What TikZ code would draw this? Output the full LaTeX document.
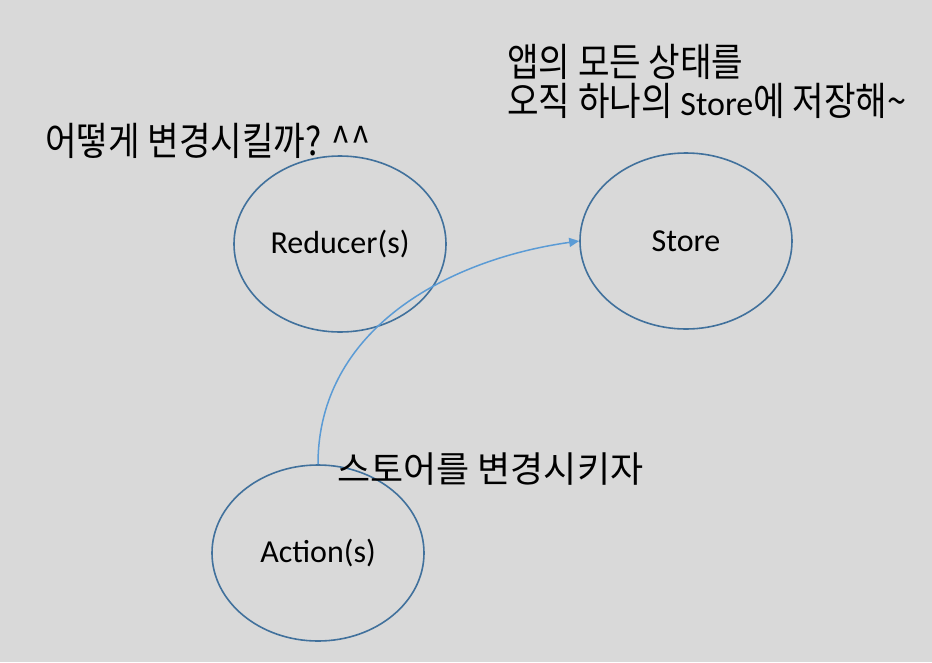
\documentclass[tikz,border=0pt]{standalone}
\usepackage{fontspec}
\setmainfont{Carlito}
\newfontfamily\kr{Noto Sans CJK KR}
\newfontfamily\krn[FakeStretch=0.88]{Noto Sans CJK KR}
\usetikzlibrary{shapes.geometric,arrows.meta}
\definecolor{bg}{HTML}{D9D9D9}
\definecolor{edge}{HTML}{41719C}
\definecolor{arr}{HTML}{5B9BD5}
\tikzset{
  state/.style={ellipse, draw=edge, line width=1.6pt, minimum width=212pt, minimum height=176pt, inner sep=0pt, font=\fontsize{32}{36}\selectfont},
  lbl/.style={anchor=base west, inner sep=0pt, text=black},
  flow/.style={draw=arr, line width=1.5pt, -{Triangle[length=10pt,width=9pt]}}
}
\begin{document}
\begin{tikzpicture}[x=1pt,y=-1pt]
\fill[bg] (0,0) rectangle (932,662);
\useasboundingbox (0,0) rectangle (932,662);
\node[state] (red) at (340,244) {Reducer(s)};
\node[state] (store) at (686,241) {Store};
\node[state] (act) at (318,553) {Action(s)};
\draw[flow] (act.north) to[out=90,in=188] (store.west);
\node[lbl, font=\krn\fontsize{39}{44}\selectfont] (t1) at (507,76) {앱의 모든 상태를};
\node[lbl, font=\krn\fontsize{39}{44}\selectfont] (t2) at (507,115) {오직 하나의 {\fontspec{Carlito}\fontsize{34}{38}\selectfont Store}에 저장해\textasciitilde};
\node[lbl, font=\krn\fontsize{39}{44}\selectfont] (t3) at (45,155) {어떻게 변경시킬까? \^{}\^{}};
\node[lbl, font=\kr\fontsize{36}{40}\selectfont] (t4) at (337,482) {스토어를 변경시키자};
\end{tikzpicture}
\end{document}
